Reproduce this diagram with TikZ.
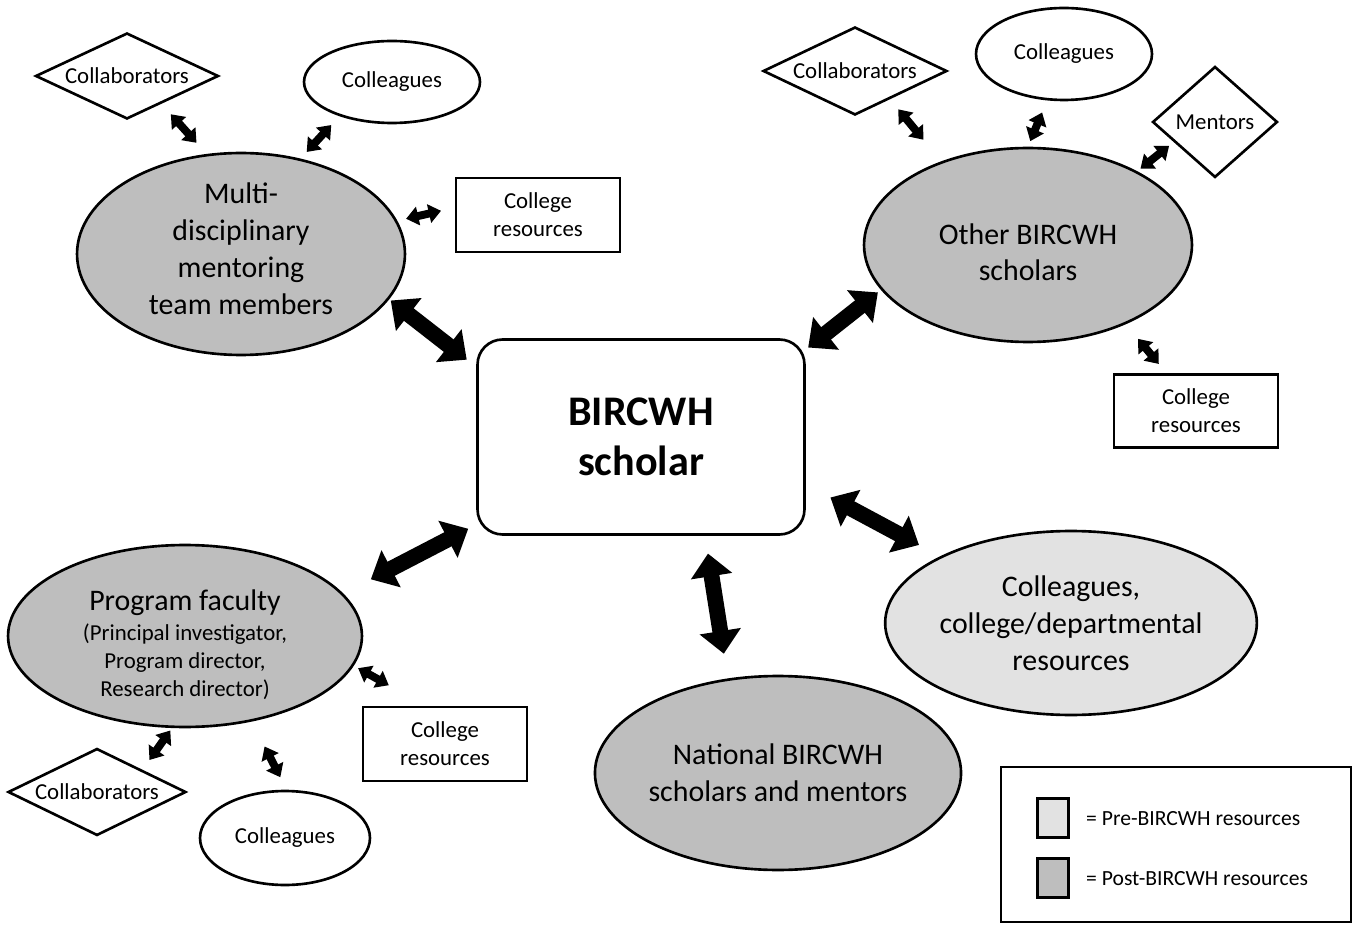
\documentclass[tikz,border=0pt]{standalone}
\usepackage{fontspec}
\setmainfont{Carlito}
\usetikzlibrary{shapes.geometric,arrows.meta}
\definecolor{postgray}{RGB}{190,190,190}
\definecolor{pregray}{RGB}{226,226,226}
\newcommand{\bigf}{\fontsize{17}{21}\selectfont}
\newcommand{\smallf}{\fontsize{13}{16}\selectfont}

\begin{document}
\begin{tikzpicture}[x=0.02cm,y=-0.02cm,
  post/.style={ellipse,draw,line width=1.5pt,fill=postgray,inner sep=0pt,align=center,font=\bigf},
  pre/.style={post,fill=pregray},
  oval/.style={ellipse,draw,line width=1.5pt,inner sep=0pt,font=\smallf},
  diam/.style={diamond,draw,line width=1.5pt,inner sep=0pt,aspect=2.5,font=\smallf},
  res/.style={rectangle,draw,line width=1.5pt,inner sep=0pt,align=center,font=\smallf,
    minimum width=3.28cm,minimum height=1.48cm},
  bigarr/.style={line width=9pt,arrows={Triangle[width=23pt,length=13pt]-Triangle[width=23pt,length=13pt]}},
  smallarr/.style={line width=4.5pt,arrows={Triangle[width=10.5pt,length=7pt]-Triangle[width=10.5pt,length=7pt]}}]
\useasboundingbox (0,0) rectangle (1355,925);

\node[rectangle,rounded corners=0.5cm,draw,line width=1.5pt,minimum width=6.54cm,minimum height=3.9cm,
  align=center,font=\fontsize{24}{28.5}\selectfont\bfseries] (bs) at (641,437) {BIRCWH\\scholar};

% mentoring team
\node[post,minimum width=6.56cm,minimum height=4.04cm] (ms) at (241,254)
  {Multi-\\disciplinary\\mentoring\\team members\rule[-6pt]{0pt}{1pt}};
\node[diam,minimum width=3.66cm,minimum height=1.72cm] (cb1) at (127,76) {Collaborators};
\draw[smallarr,shorten <=0.28cm,shorten >=0.30cm] (cb1.-39) -- (ms.109);
\node[oval,minimum width=3.52cm,minimum height=1.64cm] (cg1) at (392,82) {Colleagues};
\draw[smallarr,shorten <=0.24cm,shorten >=0.18cm] (cg1.213) -- (ms.58);
\node[res] (cr1) at (538,215) {College\\resources};
\draw[smallarr,shorten <=0.28cm,shorten >=0.18cm] (cr1.175) -- (ms.12);
\draw[bigarr,shorten <=0.04cm,shorten >=0.24cm] (ms.-17) -- (bs.157);

% other scholars
\node[post,minimum width=6.56cm,minimum height=3.88cm] (os) at (1028,245)
  {\rule{0pt}{20pt}Other BIRCWH\\scholars};
\draw[bigarr,shorten <=0.08cm,shorten >=0.06cm] (os.197) -- (bs.28);
\node[diam,minimum width=3.68cm,minimum height=1.76cm] (cb2) at (855,71) {Collaborators};
\draw[smallarr,shorten <=0.26cm,shorten >=0.56cm] (cb2.-39) -- (os.136);
\node[oval,minimum width=3.52cm,minimum height=1.84cm] (cg2) at (1064,54) {Colleagues};
\draw[smallarr,shorten <=0.26cm,shorten >=0.12cm] (cg2.-110) -- (os.90);
\node[diam,aspect=1.1,minimum width=2.5cm,minimum height=2.22cm] (mt) at (1215,122) {Mentors};
\draw[smallarr,shorten <=0.12cm,shorten >=0.08cm] (mt.206) -- (os.34);
\node[res,minimum height=1.46cm] (cr2) at (1196,411) {College\\resources};
\draw[smallarr,shorten <=0.24cm,shorten >=0.38cm] (cr2.128) -- (os.-39);

% pre resources and national
\node[pre,minimum width=6.52cm,minimum height=3.68cm] (pr) at (1071,623) {Colleagues,\\college/departmental\\resources};
\draw[bigarr,shorten <=0.56cm,shorten >=0.48cm] (bs.-16) -- (pr.153);
\node[post,minimum width=6.56cm,minimum height=3.88cm] (ns) at (778,773) {National BIRCWH\\scholars and mentors};
\draw[bigarr,shorten <=0.36cm,shorten >=0.5cm] (bs.-57) -- (ns.118);

% program faculty
\node[post,minimum width=7.08cm,minimum height=3.64cm,font=\smallf] (pf) at (185,636)
  {{\bigf\rule{0pt}{22pt}Program faculty}\\[1pt](Principal investigator,\\Program director,\\Research director)};
\draw[bigarr,shorten <=0.18cm,shorten >=0.62cm] (bs.208) -- (pf.15);
\node[res] (cr3) at (445,744) {College\\resources};
\draw[smallarr,shorten <=0.1cm,shorten >=0.84cm] (pf.-10) -- (cr3.117);
\node[diam,minimum width=3.56cm,minimum height=1.74cm] (cb3) at (97,792) {Collaborators};
\draw[smallarr,shorten <=0.06cm,shorten >=0.24cm] (pf.-98) -- (cb3.26);
\node[oval,minimum width=3.4cm,minimum height=1.88cm] (cg3) at (285,838) {Colleagues};
\draw[smallarr,shorten <=0.56cm,shorten >=0.28cm] (pf.-52) -- (cg3.88);

% legend
\draw[line width=0.8pt] (1001,767) rectangle (1351,922);
\node[draw,line width=2pt,fill=pregray,minimum width=0.62cm,minimum height=0.78cm] (kpre) at (1053,818) {};
\node[anchor=west,font=\fontsize{12.3}{14}\selectfont] (tpre) at (1080,819) {= Pre-BIRCWH resources};
\node[draw,line width=2pt,fill=postgray,minimum width=0.62cm,minimum height=0.78cm] (kpost) at (1053,878) {};
\node[anchor=west,font=\fontsize{12.3}{14}\selectfont] (tpost) at (1080,879) {= Post-BIRCWH resources};
\end{tikzpicture}
\end{document}
